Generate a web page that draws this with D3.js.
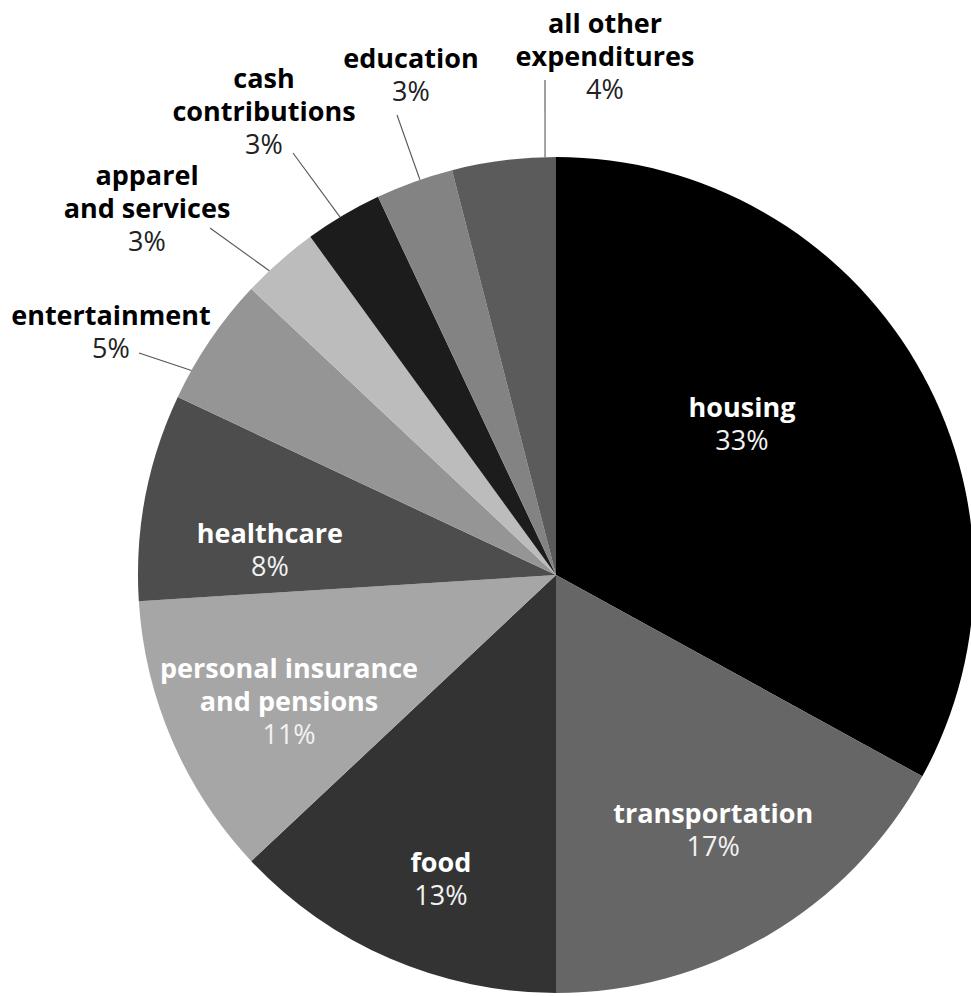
<!DOCTYPE html>
<html>
<head>
<meta charset="utf-8">
<script src="https://cdn.jsdelivr.net/npm/d3@7"></script>
<style>
  html, body { margin: 0; padding: 0; background: #fff; }
  svg { display: block; }
  text { font-family: "Open Sans", "Noto Sans", sans-serif; font-size: 27px; }
</style>
</head>
<body>
<svg id="chart" width="971" height="996"></svg>
<script>
// Household spending shares, clockwise from 12 o'clock
const categories = [
  "housing", "transportation", "food", "personal insurance and pensions",
  "healthcare", "entertainment", "apparel and services",
  "cash contributions", "education", "all other expenditures"
];
const shares = [33, 17, 13, 11, 8, 5, 3, 3, 3, 4];
const labelLines = [
  ["housing"], ["transportation"], ["food"],
  ["personal insurance", "and pensions"], ["healthcare"], ["entertainment"],
  ["apparel", "and services"], ["cash", "contributions"], ["education"],
  ["all other", "expenditures"]
];
const fills = ["#000000", "#666666", "#333333", "#a6a6a6", "#4d4d4d",
               "#959595", "#bcbcbc", "#1c1c1c", "#838383", "#5b5b5b"];

const data = categories.map((c, i) => ({ name: c, value: shares[i], lines: labelLines[i], fill: fills[i] }));

const svg = d3.select("#chart");
const cx = 556, cy = 575, R = 418;
const g = svg.append("g").attr("transform", `translate(${cx},${cy})`);

const pie = d3.pie().value(d => d.value).sort(null);
const arcs = pie(data);
const arc = d3.arc().innerRadius(0).outerRadius(R);

g.selectAll("path.slice")
  .data(arcs)
  .join("path")
  .attr("class", "slice")
  .attr("d", arc)
  .attr("fill", d => d.data.fill);

// Label layout: inside labels sit on the slice at a radius fraction and an
// angular nudge (degrees) from the slice middle; outside labels sit at a
// fixed spot with a leader line running to the rim.
const lineH = 33;
const inside = {
  "housing":                         { r: 0.5725, da: -8.4 },
  "transportation":                  { r: 0.7175, da: -1.0 },
  "food":                            { r: 0.779,  da: -2.7 },
  "personal insurance and pensions": { r: 0.707,  da: -2.0 },
  "healthcare":                      { r: 0.687,  da: -5.9 }
};
const outside = {
  "entertainment":          { x: 111, y: 325, from: [139, 353], rimDeg: -60.7 },
  "apparel and services":   { x: 147, y: 185, from: [210, 228], rimDeg: -43.3 },
  "cash contributions":     { x: 264, y: 88,  from: [293, 153], rimDeg: -31.1 },
  "education":              { x: 411, y: 68,  from: [397, 115], rimDeg: -19.0 },
  "all other expenditures": { x: 605, y: 33,  from: [545, 80],  rimDeg: -1.5 }
};

const rad = Math.PI / 180;
const labels = svg.append("g");

arcs.forEach(a => {
  const d = a.data;
  const pct = d.value + "%";
  if (inside[d.name]) {
    const o = inside[d.name];
    const mid = (a.startAngle + a.endAngle) / 2 + o.da * rad;
    const rr = R * o.r;
    const x = cx + rr * Math.sin(mid);
    const yc = cy - rr * Math.cos(mid);
    const n = d.lines.length + 1;
    const y0 = yc - (n - 1) * lineH / 2 + 9;
    const t = labels.append("text").attr("text-anchor", "middle").attr("fill", "#fff");
    d.lines.forEach((ln, i) => {
      t.append("tspan").attr("x", x).attr("y", y0 + i * lineH)
        .attr("font-weight", 700).text(ln);
    });
    t.append("tspan").attr("x", x).attr("y", y0 + d.lines.length * lineH)
      .attr("font-weight", 400).attr("fill", "#f2f2f2").text(pct);
  } else {
    const o = outside[d.name];
    const ang = o.rimDeg * rad;
    labels.append("line")
      .attr("x1", o.from[0]).attr("y1", o.from[1])
      .attr("x2", cx + R * Math.sin(ang)).attr("y2", cy - R * Math.cos(ang))
      .attr("stroke", "#555").attr("stroke-width", 1.1);
    const t = labels.append("text").attr("text-anchor", "middle");
    d.lines.forEach((ln, i) => {
      t.append("tspan").attr("x", o.x).attr("y", o.y + i * lineH)
        .attr("font-weight", 700).attr("fill", "#000").text(ln);
    });
    t.append("tspan").attr("x", o.x).attr("y", o.y + d.lines.length * lineH)
      .attr("font-weight", 400).attr("fill", "#222").text(pct);
  }
});
</script>
</body>
</html>
